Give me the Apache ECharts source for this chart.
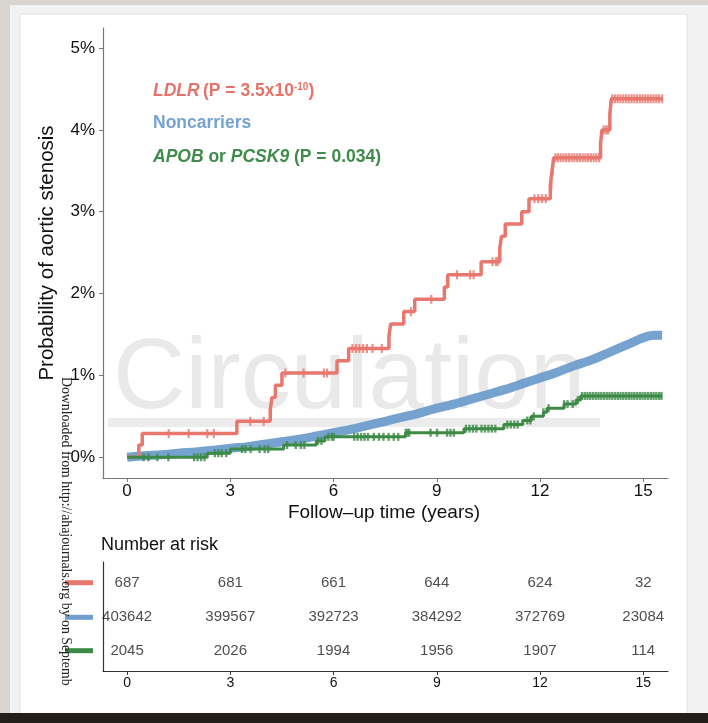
<!DOCTYPE html>
<html><head><meta charset="utf-8">
<script src="https://cdn.jsdelivr.net/npm/echarts@6/dist/echarts.min.js"></script>
<style>html,body{margin:0;padding:0;background:#d8d5d0}#c{width:708px;height:723px}</style>
</head><body><div id="c"></div>
<script>
// ---- data ----
const xTicks = [0, 3, 6, 9, 12, 15];
const yTicks = [0, 1, 2, 3, 4, 5];

const ldlrTime = [0, 0.34, 0.44, 3.19, 4.16, 4.21, 4.31, 4.5, 6.1, 6.44, 7.61, 7.66, 8.04, 8.36, 9.22, 9.32, 10.29, 10.83, 10.88, 10.99, 11.47, 11.68, 12.3, 12.35, 12.4, 13.76, 13.8, 14.03, 14.07, 15.57];
const ldlrProb = [0, 0.15, 0.29, 0.44, 0.58, 0.73, 0.88, 1.03, 1.18, 1.33, 1.48, 1.63, 1.78, 1.93, 2.08, 2.23, 2.39, 2.55, 2.70, 2.85, 3.0, 3.16, 3.33, 3.5, 3.66, 3.83, 4.0, 4.19, 4.38, 4.38];
const ldlrCensor = [1.21, 1.79, 2.33, 2.52, 3.58, 3.97, 4.6, 5.13, 5.72, 5.81, 6.55, 6.65, 6.75, 6.86, 6.97, 7.13, 7.40, 8.25, 8.84, 9.59, 9.97, 10.07, 10.62, 10.72, 10.77, 11.84, 11.95, 12.06, 12.17, 12.33, 12.37,
  12.45, 12.52, 12.6, 12.68, 12.76, 12.84, 12.92, 13.0, 13.08, 13.16, 13.24, 13.32, 13.4, 13.48, 13.56, 13.64, 13.72, 13.85, 13.92, 13.98,
  14.1, 14.18, 14.26, 14.34, 14.42, 14.5, 14.58, 14.66, 14.74, 14.82, 14.9, 14.98, 15.06, 15.14, 15.22, 15.3, 15.38, 15.46, 15.55];

const nonTime = [0, 0.5, 1, 1.5, 2, 2.5, 3, 3.5, 4, 4.5, 5, 5.5, 6, 6.5, 7, 7.5, 8, 8.5, 9, 9.5, 10, 10.5, 11, 11.5, 12, 12.5, 13, 13.5, 14, 14.5, 15, 15.3, 15.55];
const nonProb = [0, 0.02, 0.03, 0.05, 0.065, 0.085, 0.11, 0.13, 0.16, 0.19, 0.22, 0.26, 0.30, 0.34, 0.39, 0.44, 0.49, 0.54, 0.60, 0.65, 0.71, 0.77, 0.83, 0.90, 0.97, 1.04, 1.12, 1.19, 1.28, 1.37, 1.46, 1.49, 1.49];

const apobTime = [0, 2.33, 3.0, 4.55, 5.5, 5.75, 8.09, 9.79, 10.95, 11.5, 11.75, 12.1, 12.2, 12.7, 13.05, 13.18, 15.55];
const apobProb = [0, 0.05, 0.10, 0.15, 0.20, 0.25, 0.30, 0.35, 0.40, 0.45, 0.50, 0.55, 0.60, 0.65, 0.70, 0.75, 0.75];
const apobCensor = [0.48, 0.62, 0.88, 1.2, 1.95, 2.05, 2.15, 2.25, 2.55, 2.65, 2.75, 2.88, 3.34, 3.44, 3.59, 3.85, 4.0, 4.1, 4.65, 4.9, 5.05, 5.15, 5.55, 5.65, 5.85, 5.95, 6.0,
  6.6, 6.7, 6.8, 6.9, 7.0, 7.17, 7.32, 7.45, 7.6, 7.75, 7.88, 8.1, 8.15, 8.2, 8.82, 9.01, 9.3, 9.4, 9.5, 9.85, 9.95, 10.05, 10.15, 10.3, 10.4, 10.5, 10.6, 10.7,
  11.05, 11.15, 11.25, 11.35, 11.63, 11.72, 11.82, 12.1, 12.25, 12.7, 12.8, 12.95, 13.1,
  13.22, 13.3, 13.38, 13.46, 13.54, 13.62, 13.7, 13.78, 13.86, 13.94, 14.02, 14.1, 14.18, 14.26, 14.34, 14.42, 14.5, 14.58, 14.66, 14.74, 14.82, 14.9, 14.98, 15.06, 15.14, 15.22, 15.3, 15.38, 15.46, 15.53];

const riskLDLR = [687, 681, 661, 644, 624, 32];
const riskNon = [403642, 399567, 392723, 384292, 372769, 23084];
const riskAPOB = [2045, 2026, 1994, 1956, 1907, 114];

// ---- styles ----
const RED = '#e8776d', BLUE = '#6f9dce', GREEN = '#3c8a46';
const FONT = 'Liberation Sans, Arial, sans-serif';

function pairs(t, p) { return t.map((v, i) => [v, p[i]]); }
function stepAt(t, p, x) { let v = p[0]; for (let i = 0; i < t.length; i++) { if (t[i] <= x) v = p[i]; } return v; }
function censorPts(c, t, p) { return c.map(x => [x, stepAt(t, p, x)]); }

const riskRows = [riskLDLR, riskNon, riskAPOB];
const riskData = [];
riskRows.forEach((row, i) => row.forEach((n, j) => riskData.push([xTicks[j], i, n])));

const chart = echarts.init(document.getElementById('c'), null, { renderer: 'canvas' });
const axisX = (gi, col, lblSize, margin) => ({
  type: 'value', gridIndex: gi, min: -0.7, max: 15.72,
  axisLine: { show: true, onZero: false, lineStyle: { color: col, width: 1.2 } },
  axisTick: { show: true, length: 4, customValues: xTicks, lineStyle: { color: col } },
  axisLabel: { customValues: xTicks, color: '#111', fontSize: lblSize, fontFamily: FONT, margin: margin },
  splitLine: { show: false }
});

chart.setOption({
  animation: false,
  backgroundColor: '#d8d5d0',
  grid: [
    { left: 103, top: 28, width: 565, height: 450 },
    { left: 103, top: 562, width: 565, height: 109 }
  ],
  xAxis: [axisX(0, '#777', 17, 5), axisX(1, '#333', 14, 5)],
  yAxis: [
    { type: 'value', gridIndex: 0, min: -0.253, max: 5.245,
      axisLine: { show: true, onZero: false, lineStyle: { color: '#777', width: 1.2 } },
      axisTick: { show: true, length: 4, customValues: yTicks, lineStyle: { color: '#777' } },
      axisLabel: { customValues: yTicks, formatter: v => v + '%', color: '#111', fontSize: 17, fontFamily: FONT, margin: 8 },
      splitLine: { show: false } },
    { type: 'value', gridIndex: 1, min: -0.61, max: 2.6, inverse: true,
      axisLine: { show: true, onZero: false, lineStyle: { color: '#333', width: 1.2 } },
      axisTick: { show: false }, axisLabel: { show: false }, splitLine: { show: false } }
  ],
  series: [
    { name: 'Noncarriers', type: 'line', xAxisIndex: 0, yAxisIndex: 0, data: pairs(nonTime, nonProb), smooth: 0.3,
      showSymbol: false, lineStyle: { color: BLUE, width: 9, opacity: 0.95 }, z: 2 },
    { name: 'LDLR', type: 'line', step: 'end', xAxisIndex: 0, yAxisIndex: 0, data: pairs(ldlrTime, ldlrProb),
      showSymbol: false, lineStyle: { color: RED, width: 3.5 }, z: 3 },
    { name: 'LDLR censor', type: 'scatter', xAxisIndex: 0, yAxisIndex: 0, data: censorPts(ldlrCensor, ldlrTime, ldlrProb),
      symbol: 'rect', symbolSize: [2.2, 9], itemStyle: { color: RED }, z: 3 },
    { name: 'APOB', type: 'line', step: 'end', xAxisIndex: 0, yAxisIndex: 0, data: pairs(apobTime, apobProb),
      showSymbol: false, lineStyle: { color: GREEN, width: 3 }, z: 4 },
    { name: 'APOB censor', type: 'scatter', xAxisIndex: 0, yAxisIndex: 0, data: censorPts(apobCensor, apobTime, apobProb),
      symbol: 'rect', symbolSize: [2.4, 8], itemStyle: { color: GREEN }, z: 4 },
    { name: 'risk', type: 'scatter', xAxisIndex: 1, yAxisIndex: 1, data: riskData, symbolSize: 1,
      itemStyle: { color: 'rgba(0,0,0,0)' },
      label: { show: true, position: 'inside', formatter: p => String(p.value[2]), color: '#222', fontSize: 15, fontFamily: FONT } }
  ],
  graphic: [
    { type: 'rect', z: -10, shape: { x: 10, y: 5, width: 698, height: 709 }, style: { fill: '#f2f2f2' } },
    { type: 'rect', z: -9, shape: { x: 20, y: 14, width: 667, height: 700 }, style: { fill: '#ffffff', stroke: '#e2e2e2', lineWidth: 1 } },
    { type: 'rect', z: -8, shape: { x: 108, y: 418, width: 492, height: 9 }, style: { fill: '#ececec' } },
    { type: 'text', z: -8, x: 113, y: 380, style: { text: 'Circulation', fill: '#e9e9e9', font: '100px ' + FONT, textAlign: 'left', textVerticalAlign: 'middle' } },
    { type: 'text', z: 10, x: 153, y: 91, style: {
        text: '{i|LDLR} {b|(P = 3.5x10}{s|-10}{b|)}', fill: '#e5736b', textVerticalAlign: 'middle',
        rich: { i: { fontStyle: 'italic', fontWeight: 'bold', fontSize: 17.5, fontFamily: FONT, fill: '#e5736b' },
                b: { fontWeight: 'bold', fontSize: 17.5, fontFamily: FONT, fill: '#e5736b' },
                s: { fontWeight: 'bold', fontSize: 10, fontFamily: FONT, fill: '#e5736b', verticalAlign: 'top' } } } },
    { type: 'text', z: 10, x: 153, y: 123, style: { text: 'Noncarriers', fill: '#75a3d3', font: 'bold 17.5px ' + FONT, textVerticalAlign: 'middle' } },
    { type: 'text', z: 10, x: 153, y: 157, style: {
        text: '{i|APOB}{b| or }{i|PCSK9}{b| (P = 0.034)}', fill: '#3f8b49', textVerticalAlign: 'middle',
        rich: { i: { fontStyle: 'italic', fontWeight: 'bold', fontSize: 17.5, fontFamily: FONT, fill: '#3f8b49' },
                b: { fontWeight: 'bold', fontSize: 17.5, fontFamily: FONT, fill: '#3f8b49' } } } },
    { type: 'text', z: 10, x: 384, y: 513, style: { text: 'Follow\u2013up time (years)', fill: '#111', font: '19px ' + FONT, textAlign: 'center', textVerticalAlign: 'middle' } },
    { type: 'text', z: 10, x: 47, y: 253, rotation: Math.PI / 2, style: { text: 'Probability of aortic stenosis', fill: '#111', font: '20.5px ' + FONT, textAlign: 'center', textVerticalAlign: 'middle' } },
    { type: 'text', z: 10, x: 101, y: 545, style: { text: 'Number at risk', fill: '#111', font: '18px ' + FONT, textAlign: 'left', textVerticalAlign: 'middle' } },
    { type: 'line', z: 10, shape: { x1: 65, y1: 582.7, x2: 93, y2: 582.7 }, style: { stroke: RED, lineWidth: 5 } },
    { type: 'line', z: 10, shape: { x1: 65, y1: 617.3, x2: 93, y2: 617.3 }, style: { stroke: BLUE, lineWidth: 5 } },
    { type: 'line', z: 10, shape: { x1: 65, y1: 650.7, x2: 93, y2: 650.7 }, style: { stroke: GREEN, lineWidth: 5 } },
    { type: 'text', z: 20, x: 66, y: 377, rotation: -Math.PI / 2, style: { text: 'Downloaded from http://ahajournals.org by on Septemb', fill: '#222', font: '13.8px Liberation Serif, Times New Roman, serif', textAlign: 'left', textVerticalAlign: 'middle' } },
    { type: 'rect', z: 30, shape: { x: 0, y: 713, width: 708, height: 10 }, style: { fill: '#231e18' } }
  ]
});
</script></body></html>
